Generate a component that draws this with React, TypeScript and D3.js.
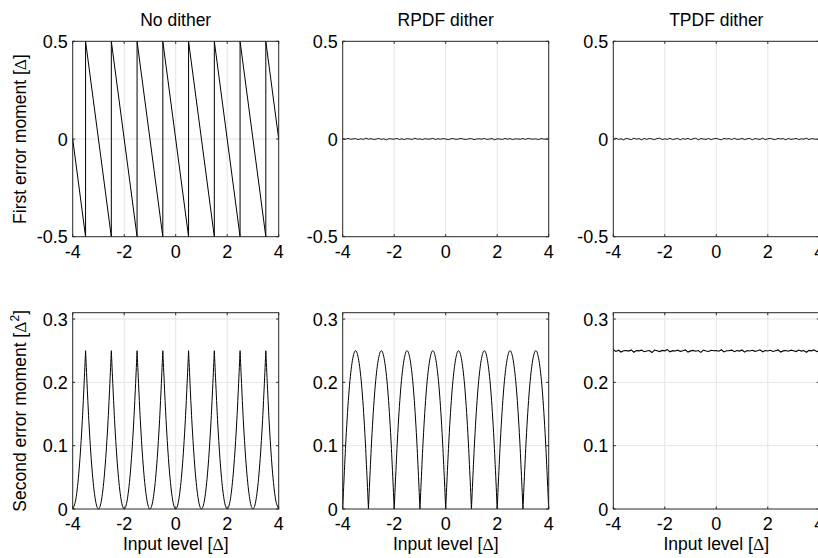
import React from "react";
import * as d3 from "d3";

// ticks and titles
const xTicks = [-4, -2, 0, 2, 4];
const meanTicks = [-0.5, 0, 0.5];
const powerTicks = [0, 0.1, 0.2, 0.3];
const titles = ["No dither", "RPDF dither", "TPDF dither"];

// no dither, first moment: sawtooth vertices
const noDitherMeanX = [-4, -3.5, -3.5, -2.5, -2.5, -1.5, -1.5, -0.5, -0.5, 0.5, 0.5, 1.5, 1.5, 2.5, 2.5, 3.5, 3.5, 4];
const noDitherMeanY = [0, -0.5, 0.5, -0.5, 0.5, -0.5, 0.5, -0.5, 0.5, -0.5, 0.5, -0.5, 0.5, -0.5, 0.5, -0.5, 0.5, 0];

// second moments read every 1/8 of a step
const fineLevels = d3.range(65).map((i) => -4 + i / 8);
const noDitherPower = [
  0, 0.016, 0.063, 0.141, 0.25, 0.141, 0.063, 0.016,
  0, 0.016, 0.063, 0.141, 0.25, 0.141, 0.063, 0.016,
  0, 0.016, 0.063, 0.141, 0.25, 0.141, 0.063, 0.016,
  0, 0.016, 0.063, 0.141, 0.25, 0.141, 0.063, 0.016,
  0, 0.016, 0.063, 0.141, 0.25, 0.141, 0.063, 0.016,
  0, 0.016, 0.063, 0.141, 0.25, 0.141, 0.063, 0.016,
  0, 0.016, 0.063, 0.141, 0.25, 0.141, 0.063, 0.016,
  0, 0.016, 0.063, 0.141, 0.25, 0.141, 0.063, 0.016,
  0,
];
const rpdfPower = [
  0, 0.109, 0.188, 0.234, 0.25, 0.234, 0.188, 0.109,
  0, 0.109, 0.188, 0.234, 0.25, 0.234, 0.188, 0.109,
  0, 0.109, 0.188, 0.234, 0.25, 0.234, 0.188, 0.109,
  0, 0.109, 0.188, 0.234, 0.25, 0.234, 0.188, 0.109,
  0, 0.109, 0.188, 0.234, 0.25, 0.234, 0.188, 0.109,
  0, 0.109, 0.188, 0.234, 0.25, 0.234, 0.188, 0.109,
  0, 0.109, 0.188, 0.234, 0.25, 0.234, 0.188, 0.109,
  0, 0.109, 0.188, 0.234, 0.25, 0.234, 0.188, 0.109,
  0,
];

// measured (noisy) curves, every 0.1 step
const noiseLevels = d3.range(81).map((i) => -4 + i / 10);
const rpdfMean = [
  0.001, -0.002, 0.003, -0.001, 0.0, 0.002, -0.003, 0.001, -0.002, 0.004,
  -0.001, 0.002, -0.003, 0.0, 0.003, -0.002, 0.001, -0.004, 0.002, 0.0,
  -0.001, 0.003, -0.002, 0.001, -0.003, 0.002, 0.0, -0.002, 0.004, -0.001,
  0.001, -0.003, 0.002, -0.001, 0.0, 0.003, -0.002, 0.001, -0.001, 0.002,
  0.0, -0.003, 0.001, 0.002, -0.002, 0.0, 0.003, -0.001, -0.002, 0.001,
  0.002, -0.003, 0.0, 0.001, -0.001, 0.003, -0.002, 0.0, 0.002, -0.004,
  0.001, 0.0, -0.002, 0.003, -0.001, 0.002, -0.003, 0.001, 0.0, -0.001,
  0.002, -0.002, 0.003, 0.0, -0.001, 0.001, -0.003, 0.002, 0.0, -0.001, 0.001,
];
const tpdfMean = [
  -0.003, 0.004, -0.002, 0.001, -0.004, 0.003, 0.0, -0.003, 0.004, -0.001,
  0.002, -0.004, 0.003, -0.002, 0.003, 0.0, -0.003, 0.002, 0.004, -0.003,
  0.001, -0.002, 0.004, -0.003, 0.0, 0.003, -0.004, 0.002, -0.001, 0.003,
  -0.003, 0.001, 0.004, -0.004, 0.002, 0.0, -0.002, 0.003, -0.003, 0.001,
  0.003, -0.001, -0.004, 0.003, 0.0, 0.002, -0.003, 0.004, -0.002, -0.001,
  0.003, -0.003, 0.001, 0.003, -0.004, 0.002, 0.0, -0.002, 0.004, -0.003,
  0.001, 0.003, -0.001, -0.003, 0.003, 0.0, 0.002, -0.004, 0.003, -0.002,
  0.0, 0.003, -0.003, 0.001, -0.001, 0.004, -0.003, 0.002, 0.0, -0.002, 0.001,
];
const tpdfPower = [
  0.2515, 0.2488, 0.2507, 0.2479, 0.2498, 0.2503, 0.2494, 0.2512, 0.2476, 0.2501,
  0.2497, 0.2509, 0.2484, 0.2496, 0.2503, 0.2471, 0.2511, 0.2499, 0.2486, 0.2504,
  0.2498, 0.2517, 0.2482, 0.2501, 0.2495, 0.2508, 0.2489, 0.25, 0.2513, 0.2478,
  0.2497, 0.2505, 0.2491, 0.2502, 0.2474, 0.251, 0.2496, 0.2487, 0.2506, 0.2499,
  0.2503, 0.2492, 0.2515, 0.2481, 0.25, 0.2498, 0.2509, 0.2485, 0.2503, 0.2494,
  0.2511, 0.2477, 0.2501, 0.2496, 0.2507, 0.249, 0.2499, 0.2514, 0.2483, 0.2502,
  0.2495, 0.2506, 0.2488, 0.25, 0.2512, 0.2479, 0.2497, 0.2504, 0.2491, 0.2508,
  0.2499, 0.2486, 0.251, 0.2494, 0.2503, 0.2475, 0.2505, 0.2498, 0.2513, 0.2484, 0.25,
];

const FONT = "'Liberation Sans', Arial, Helvetica, sans-serif";
const SERIF = "'Liberation Serif', 'Times New Roman', serif";
const cols = [72.7, 342.7, 613.3];
const plotW = 206;
const rows = [
  { top: 41.3, h: 195.4, domain: [-0.5, 0.5], ticks: meanTicks },
  { top: 312.7, h: 196.3, domain: [0, 0.31], ticks: powerTicks },
];

type Pt = [number, number];

// split a curve where it has a cusp so each piece is smoothed on its own
function splitAt(xs: number[], ys: number[], isBreak: (v: number) => boolean): Pt[][] {
  const segs: Pt[][] = [];
  let cur: Pt[] = [];
  xs.forEach((x, i) => {
    cur.push([x, ys[i]]);
    if (i > 0 && i < xs.length - 1 && isBreak(ys[i])) {
      segs.push(cur);
      cur = [[x, ys[i]]];
    }
  });
  segs.push(cur);
  return segs;
}

const zip = (xs: number[], ys: number[]): Pt[] => xs.map((x, i) => [x, ys[i]]);

type Series = { pieces: Pt[][]; smooth?: boolean; width?: number };

function Panel({ col, row, series, title, xLabel, yLabel }: {
  col: number; row: number; series: Series[]; title?: string; xLabel?: boolean; yLabel?: React.ReactNode;
}) {
  const left = cols[col];
  const { top, h, domain, ticks } = rows[row];
  const x = d3.scaleLinear().domain([-4, 4]).range([left, left + plotW]);
  const y = d3.scaleLinear().domain(domain).range([top + h, top]);
  const bottom = top + h;
  const right = left + plotW;
  const tl = 2.5;

  return (
    <g>
      {/* grid */}
      {xTicks.slice(1, -1).map((t) => (
        <line key={"gx" + t} x1={x(t)} x2={x(t)} y1={top} y2={bottom} stroke="#e4e4e4" strokeWidth={1} />
      ))}
      {ticks.filter((t) => y(t) > top + 0.5 && y(t) < bottom - 0.5).map((t) => (
        <line key={"gy" + t} x1={left} x2={right} y1={y(t)} y2={y(t)} stroke="#e4e4e4" strokeWidth={1} />
      ))}
      {/* data */}
      {series.map((s, si) => {
        const gen = d3
          .line<Pt>()
          .x((d) => x(d[0]))
          .y((d) => y(d[1]))
          .curve(s.smooth ? d3.curveCatmullRom.alpha(0) : d3.curveLinear);
        return s.pieces.map((p, pi) => (
          <path key={si + "-" + pi} d={gen(p) || ""} fill="none" stroke="#000" strokeWidth={s.width ?? 1} />
        ));
      })}
      {/* box */}
      <rect x={left} y={top} width={plotW} height={h} fill="none" stroke="#262626" strokeWidth={1} />
      {/* ticks */}
      {xTicks.map((t) => (
        <g key={"tx" + t}>
          <line x1={x(t)} x2={x(t)} y1={bottom} y2={bottom - tl} stroke="#262626" />
          <line x1={x(t)} x2={x(t)} y1={top} y2={top + tl} stroke="#262626" />
          <text x={x(t)} y={bottom + 21} textAnchor="middle" fontSize={18} fill="#000">
            {String(t)}
          </text>
        </g>
      ))}
      {ticks.map((t) => (
        <g key={"ty" + t}>
          <line x1={left} x2={left + tl} y1={y(t)} y2={y(t)} stroke="#262626" />
          <line x1={right} x2={right - tl} y1={y(t)} y2={y(t)} stroke="#262626" />
          <text x={left - 5} y={y(t) + 6.5} textAnchor="end" fontSize={18} fill="#000">
            {String(t)}
          </text>
        </g>
      ))}
      {title && (
        <text x={left + plotW / 2} y={top - 15} textAnchor="middle" fontSize={17.5} fill="#000">
          {title}
        </text>
      )}
      {xLabel && (
        <text x={left + plotW / 2} y={550} textAnchor="middle" fontSize={17.5} fill="#000">
          Input level [<tspan fontFamily={SERIF}>Δ</tspan>]
        </text>
      )}
      {yLabel && (
        <text
          transform={`translate(26,${top + h / 2}) rotate(-90)`}
          textAnchor="middle"
          fontSize={17.5}
          fill="#000"
        >
          {yLabel}
        </text>
      )}
    </g>
  );
}

export default function App() {
  const noDitherMean: Series = { pieces: [zip(noDitherMeanX, noDitherMeanY)] };
  const noDitherSq: Series = { pieces: splitAt(fineLevels, noDitherPower, (v) => v >= 0.25), smooth: true };
  const rpdfSq: Series = { pieces: splitAt(fineLevels, rpdfPower, (v) => v <= 0), smooth: true };
  const rpdfM: Series = { pieces: [zip(noiseLevels, rpdfMean)], width: 0.9 };
  const tpdfM: Series = { pieces: [zip(noiseLevels, tpdfMean)], width: 0.9 };
  const tpdfSq: Series = { pieces: [zip(noiseLevels, tpdfPower)], width: 1.1 };

  return (
    <svg
      width={818}
      height={558}
      style={{ position: "absolute", left: 0, top: 0, background: "#fff", fontFamily: FONT }}
    >
      <rect width={818} height={558} fill="#fff" />
      <Panel
        col={0}
        row={0}
        series={[noDitherMean]}
        title={titles[0]}
        yLabel={<>First error moment [<tspan fontFamily={SERIF}>Δ</tspan>]</>}
      />
      <Panel col={1} row={0} series={[rpdfM]} title={titles[1]} />
      <Panel col={2} row={0} series={[tpdfM]} title={titles[2]} />
      <Panel
        col={0}
        row={1}
        series={[noDitherSq]}
        xLabel
        yLabel={
          <>
            Second error moment [<tspan fontFamily={SERIF}>Δ</tspan>
            <tspan dy={-7} fontSize={12}>2</tspan>
            <tspan dy={7}>]</tspan>
          </>
        }
      />
      <Panel col={1} row={1} series={[rpdfSq]} xLabel />
      <Panel col={2} row={1} series={[tpdfSq]} xLabel />
    </svg>
  );
}
